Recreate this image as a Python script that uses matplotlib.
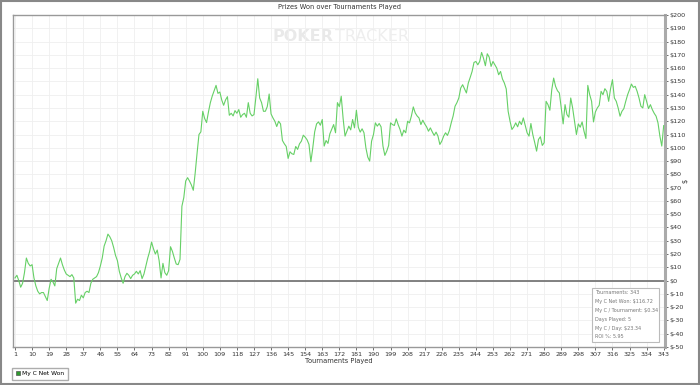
import matplotlib
matplotlib.use("Agg")
import matplotlib.pyplot as plt
from matplotlib.ticker import FuncFormatter
from matplotlib.patches import Rectangle
import numpy as np

# net won after each tournament
net_won = [
    2, 4, 0, -5, -2, 6, 17, 13, 11, 12,
    2, -4, -8, -10, -9, -9, -12, -15, -6, 1,
    -1, -4, 9, 13, 17, 12, 8, 5, 4, 3,
    4.5, 2, -17, -14, -15, -11, -13, -9, -8, -9,
    -2, 1, 2, 3, 6, 11, 17, 26, 30, 35,
    33, 30, 25, 19, 15, 7, 2, -2, 3, 5.5,
    4, 1.5, 4, 5, 7, 5, 7.5, 1.5, 5, 11,
    17, 22, 29, 24, 20, 23, 15, 2, 13, 6,
    4, 7.5, 25.5, 22, 17, 12.5, 12, 16, 56, 62.5,
    75, 77.5, 75, 72, 68, 81, 96, 110, 112, 127.5,
    122, 119, 127, 134, 139, 143, 147, 141, 142, 136,
    132, 136, 138.5, 124.5, 126, 124, 128, 126, 128.8, 123,
    125, 126, 123, 134, 126, 124, 125, 138, 152, 137.5,
    134, 127.5, 127.5, 131, 140.5, 125.5, 122.5, 120, 116, 120,
    118, 105.5, 103, 101, 92, 97, 95.5, 95, 101, 98.8,
    103, 105, 109.5, 108, 106, 102.5, 89.5, 100, 112, 118,
    119.5, 117, 121.3, 101.3, 105.5, 103.3, 110.5, 114, 117.5, 111.3,
    134, 131, 138.8, 122, 108.8, 112.5, 116.3, 113.5, 121.3, 115,
    128.3, 115.5, 111.8, 114.3, 111.3, 100, 93, 90, 105, 110,
    118.8, 116.3, 118.3, 115.8, 101.3, 94.3, 97.5, 101.8, 118.8, 117.5,
    116.8, 121.8, 117.5, 113.8, 108.8, 113.3, 111.3, 120, 118.8, 124,
    130.8, 126.3, 124, 122.5, 117.5, 120.8, 118, 115.8, 112.5, 115,
    112, 109.3, 111.8, 108.8, 102.5, 105, 108.8, 111.3, 109.3, 113,
    118.8, 124, 131.3, 134, 137.5, 145, 147.5, 144.3, 141.3, 148.8,
    153, 157.5, 164.3, 165, 162.5, 165, 171.8, 167.5, 161.8, 170.8,
    168.3, 161.3, 165, 162.5, 160, 155, 157.5, 151.8, 148.8, 144.3,
    127.5, 120, 113.8, 115.8, 118.8, 115.8, 120, 117.5, 122.5, 116.8,
    111.3, 108.8, 118.3, 110, 104, 97.5, 106.3, 108.3, 101.8, 103.8,
    135, 132.5, 128.3, 143.8, 152.5, 146.3, 143, 141.3, 130, 118,
    132.5, 125, 123, 137.5, 130, 120, 110, 118, 115.5, 119.5,
    112.5, 107, 147, 140, 135, 119.5, 127, 130, 132, 142.5,
    140, 144.5, 142.5, 135, 144.5, 151.3, 137.5, 135, 130, 123.8,
    127.5, 129.5, 135, 140, 143.8, 148, 145.5, 146.3, 142.5, 137.5,
    131.3, 130, 140, 135, 129.5, 132.5, 128.8, 126, 123.8, 118.8,
    108.8, 101.3, 116.72,
]
tournaments = list(range(1, len(net_won) + 1))
x_ticks = list(range(1, 344, 9))
y_ticks = list(range(-50, 201, 10))

stats_lines = [
    "Tournaments: 343",
    "My C Net Won: $116.72",
    "My C / Tournament: $0.34",
    "Days Played: 5",
    "My C / Day: $23.34",
    "ROI %: 5.95",
]

plt.rcParams['font.family'] = ['DejaVu Sans']

fig = plt.figure(figsize=(7, 3.85), dpi=100)
fig.patches.append(Rectangle((0.002, 0.003), 0.996, 0.994, transform=fig.transFigure,
                             fill=False, edgecolor='#888888', linewidth=1.5))

ax = fig.add_axes([13 / 700, 1 - 347 / 385, (665 - 13) / 700, (347 - 15) / 385])
ax.plot(tournaments, net_won, color='#66d066', linewidth=0.8, zorder=3)
ax.axhline(0, color='#777777', linewidth=1.3, zorder=2)

ax.set_xlim(-0.05, 343.7)
ax.set_ylim(-50, 200)
ax.set_xticks(x_ticks)
ax.set_yticks(y_ticks)
ax.yaxis.tick_right()
ax.yaxis.set_major_formatter(FuncFormatter(lambda v, p: "$%d" % v))
ax.tick_params(axis='both', labelsize=4.6, colors='#555555', length=2, width=0.6, pad=1.5)
ax.tick_params(axis='x', labelcolor='#333333')
ax.tick_params(axis='y', labelcolor='#333333')
ax.grid(True, color='#efefef', linewidth=0.6, zorder=0)
for s in ['left', 'top', 'bottom']:
    ax.spines[s].set_color('#999999')
    ax.spines[s].set_linewidth(1.0)
ax.spines['right'].set_color('#aaaaaa')
ax.spines['right'].set_linewidth(2.2)

ax.set_xlabel("Tournaments Played", fontsize=4.8, color='#333333', labelpad=1)
ax.set_title("Prizes Won over Tournaments Played", fontsize=4.8, color='#333333', pad=4)
ax.text(1.032, 0.5, "$", transform=ax.transAxes, fontsize=4.8, color='#333333',
        rotation=90, ha='center', va='center')

# watermark
ax.text(0.492, 0.934, "POKER", transform=ax.transAxes, fontsize=11.5, fontweight='bold',
        color='#e9e9e9', ha='right', va='center', zorder=1)
ax.text(0.494, 0.934, "TRACKER", transform=ax.transAxes, fontsize=11.5,
        color='#eeeeee', ha='left', va='center', zorder=1)

# stats box
ax.add_patch(Rectangle((0.8885, 0.0136), 0.1025, 0.163, transform=ax.transAxes,
                       facecolor='white', edgecolor='#bbbbbb', linewidth=0.8, zorder=4))
for i, line in enumerate(stats_lines):
    ax.text(0.8925, 0.163 - i * 0.0265, line, transform=ax.transAxes, fontsize=3.5,
            color='#777777', ha='left', va='center', zorder=5)

# legend
leg = fig.legend([plt.Line2D([], [], marker='s', linestyle='', markersize=3.5,
                             markerfacecolor='#2e9a2e', markeredgecolor='#555555',
                             markeredgewidth=0.5)],
                 ["My C Net Won"], loc='lower left', bbox_to_anchor=(12 / 700, 5 / 385),
                 fontsize=4.3, frameon=True, fancybox=False, handlelength=0.8,
                 handletextpad=0.3, borderpad=0.6, borderaxespad=0)
leg.get_frame().set_edgecolor('#999999')
leg.get_frame().set_linewidth(1.0)

fig.savefig("out.png", dpi=100)
